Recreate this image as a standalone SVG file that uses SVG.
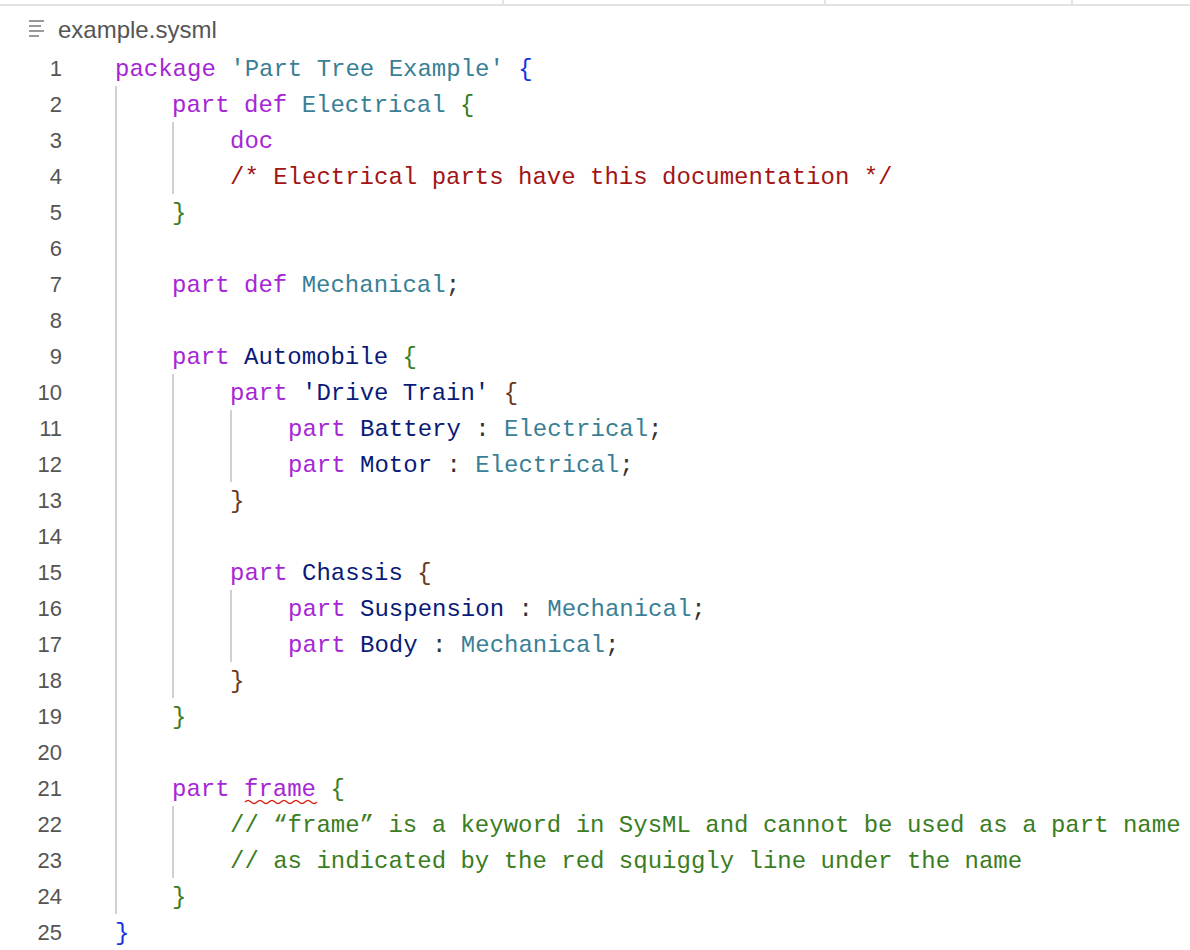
<svg xmlns="http://www.w3.org/2000/svg" width="1190" height="950" viewBox="0 0 1190 950">
<style>
.c{font-family:"Liberation Mono",monospace;font-size:24px;white-space:pre}
.n{font-family:"Liberation Sans",sans-serif;font-size:22px;fill:#555;text-anchor:end}
.k{fill:#a626d6}.t{fill:#3a7f95}.v{fill:#0a1a78}.r{fill:#a31515}.g{fill:#3a7d22}.b{fill:#1a33e0}.o{fill:#6b3a1c}.p{fill:#333}
.gd{stroke:#d0d0d0;stroke-width:2}
</style>
<rect width="1190" height="950" fill="#fff"/>
<line x1="0" y1="5" x2="1190" y2="5" stroke="#e3e3e3" stroke-width="2"/>
<g stroke="#e3e3e3" stroke-width="2"><line x1="503" y1="0" x2="503" y2="5"/><line x1="825" y1="0" x2="825" y2="5"/><line x1="1072" y1="0" x2="1072" y2="5"/></g>
<g fill="#999"><rect x="29" y="20" width="15" height="2"/><rect x="29" y="25" width="12" height="2"/><rect x="29" y="30" width="15" height="2"/><rect x="29" y="35" width="10" height="2"/></g>
<text x="58" y="38" font-family="Liberation Sans,sans-serif" font-size="24" fill="#555">example.sysml</text>
<g class="gd">
<line x1="116" y1="86" x2="116" y2="914"/>
<line x1="173" y1="122" x2="173" y2="194"/>
<line x1="173" y1="374" x2="173" y2="698"/>
<line x1="173" y1="806" x2="173" y2="878"/>
<line x1="231" y1="410" x2="231" y2="482"/>
<line x1="231" y1="590" x2="231" y2="662"/>
</g>
<g>
<text class="n" x="62" y="76">1</text><text class="n" x="62" y="112">2</text><text class="n" x="62" y="148">3</text><text class="n" x="62" y="184">4</text><text class="n" x="62" y="220">5</text><text class="n" x="62" y="256">6</text><text class="n" x="62" y="292">7</text><text class="n" x="62" y="328">8</text><text class="n" x="62" y="364">9</text><text class="n" x="62" y="400">10</text><text class="n" x="62" y="436">11</text><text class="n" x="62" y="472">12</text><text class="n" x="62" y="508">13</text><text class="n" x="62" y="544">14</text><text class="n" x="62" y="580">15</text><text class="n" x="62" y="616">16</text><text class="n" x="62" y="652">17</text><text class="n" x="62" y="688">18</text><text class="n" x="62" y="724">19</text><text class="n" x="62" y="760">20</text><text class="n" x="62" y="796">21</text><text class="n" x="62" y="832">22</text><text class="n" x="62" y="868">23</text><text class="n" x="62" y="904">24</text><text class="n" x="62" y="940">25</text>
</g>
<g class="c">
<text x="115" y="76"><tspan class="k">package</tspan> <tspan class="t">'Part Tree Example'</tspan> <tspan class="b">{</tspan></text>
<text x="172" y="112"><tspan class="k">part def</tspan> <tspan class="t">Electrical</tspan> <tspan class="g">{</tspan></text>
<text x="230" y="148" class="k">doc</text>
<text x="230" y="184" class="r">/* Electrical parts have this documentation */</text>
<text x="172" y="220" class="g">}</text>
<text x="172" y="292"><tspan class="k">part def</tspan> <tspan class="t">Mechanical</tspan><tspan class="p">;</tspan></text>
<text x="172" y="364"><tspan class="k">part</tspan> <tspan class="v">Automobile</tspan> <tspan class="g">{</tspan></text>
<text x="230" y="400"><tspan class="k">part</tspan> <tspan class="v">'Drive Train'</tspan> <tspan class="o">{</tspan></text>
<text x="288" y="436"><tspan class="k">part</tspan> <tspan class="v">Battery</tspan> <tspan class="p">:</tspan> <tspan class="t">Electrical</tspan><tspan class="p">;</tspan></text>
<text x="288" y="472"><tspan class="k">part</tspan> <tspan class="v">Motor</tspan> <tspan class="p">:</tspan> <tspan class="t">Electrical</tspan><tspan class="p">;</tspan></text>
<text x="230" y="508" class="o">}</text>
<text x="230" y="580"><tspan class="k">part</tspan> <tspan class="v">Chassis</tspan> <tspan class="o">{</tspan></text>
<text x="288" y="616"><tspan class="k">part</tspan> <tspan class="v">Suspension</tspan> <tspan class="p">:</tspan> <tspan class="t">Mechanical</tspan><tspan class="p">;</tspan></text>
<text x="288" y="652"><tspan class="k">part</tspan> <tspan class="v">Body</tspan> <tspan class="p">:</tspan> <tspan class="t">Mechanical</tspan><tspan class="p">;</tspan></text>
<text x="230" y="688" class="o">}</text>
<text x="172" y="724" class="g">}</text>
<text x="172" y="796"><tspan class="k">part frame</tspan> <tspan class="g">{</tspan></text>
<text x="230" y="832" class="g">// “frame” is a keyword in SysML and cannot be used as a part name</text>
<text x="230" y="868" class="g">// as indicated by the red squiggly line under the name</text>
<text x="172" y="904" class="g">}</text>
<text x="115" y="940" class="b">}</text>
</g>
<path d="M245 802 q3 -3 6 0 t6 0 t6 0 t6 0 t6 0 t6 0 t6 0 t6 0 t6 0 t6 0 t6 0 t6 0" fill="none" stroke="#d42a1c" stroke-width="1.5"/>
</svg>
